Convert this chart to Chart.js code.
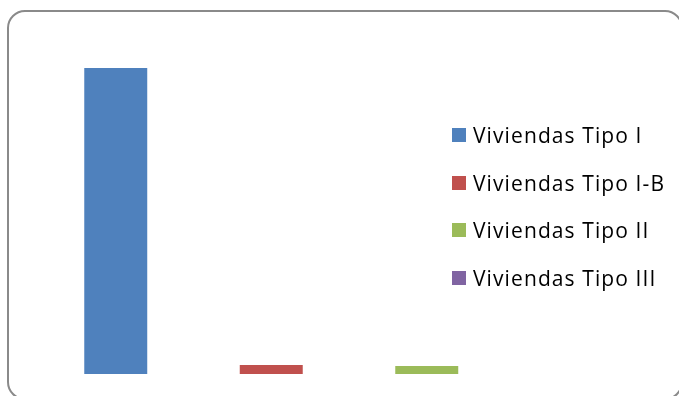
<!DOCTYPE html>
<html>
<head>
<meta charset="utf-8">
<script src="https://cdn.jsdelivr.net/npm/chart.js@4/dist/chart.umd.min.js"></script>
<style>
	html, body { margin: 0; padding: 0; background: #fff; overflow: hidden; }
	#wrap { position: relative; width: 679px; height: 396px; }
	#frame {
		position: absolute; left: 7px; top: 10px; width: 676px; height: 390px;
		border: 2px solid #8a8a8a; border-radius: 18px; box-sizing: border-box;
	}
	#graphicViviendas { position: absolute; left: 0; top: 0; }
	#legendViviendas {
		position: absolute; left: 452px; top: 111px;
		font-family: "Open Sans", sans-serif; font-size: 21px; letter-spacing: 1.1px; color: #000;
	}
	#legendViviendas ul { list-style: none; margin: 0; padding: 0; }
	#legendViviendas li { display: flex; align-items: center; height: 47.7px; white-space: nowrap; }
	#legendViviendas li span { display: inline-block; width: 14px; height: 14px; margin-right: 7px; }
</style>
</head>
<body>
<div id="wrap">
	<div id="frame"></div>
	<canvas id="graphicViviendas" width="679" height="396"></canvas>
	<div id="legendViviendas"></div>
</div>
<script>
const categories = ['Viviendas Tipo I', 'Viviendas Tipo I-B', 'Viviendas Tipo II', 'Viviendas Tipo III'];
const values = [340, 10, 9, 0];
const colors = ['#4F81BD', '#C0504D', '#9BBB59', '#8064A2'];

const Viviendas = {};

Viviendas.HtmlLegend = {
	id: 'htmlLegend',
	afterUpdate: function(chart) {
		const box = document.getElementById('legendViviendas');
		box.innerHTML = '';
		const ul = document.createElement('ul');
		const items = chart.options.plugins.legend.labels.generateLabels(chart);
		items.forEach(function(item) {
			const li = document.createElement('li');
			const swatch = document.createElement('span');
			swatch.style.background = item.fillStyle;
			li.appendChild(swatch);
			li.appendChild(document.createTextNode(item.text));
			ul.appendChild(li);
		});
		box.appendChild(ul);
	}
};

Viviendas.Graphic = (function() {

	function Graphic() {
		this.ctx = document.getElementById('graphicViviendas').getContext('2d');
	}

	Graphic.prototype.start = function() {
		new Chart(this.ctx, {
			type: 'bar',
			data: {
				labels: categories,
				datasets: [{
					label: 'Viviendas',
					backgroundColor: colors,
					borderWidth: 0,
					barPercentage: 0.405,
					categoryPercentage: 1,
					data: values
				}]
			},
			options: {
				responsive: false,
				animation: false,
				layout: { padding: { left: 38, right: 19, top: 14, bottom: 22 } },
				plugins: {
					legend: {
						display: false,
						labels: {
							generateLabels: function(chart) {
								const ds = chart.data.datasets[0];
								return chart.data.labels.map(function(label, i) {
									return { text: label, fillStyle: ds.backgroundColor[i], index: i };
								});
							}
						}
					},
					tooltip: { enabled: false }
				},
				scales: {
					x: { display: false },
					y: { display: false, min: 0, max: 400 }
				}
			},
			plugins: [Viviendas.HtmlLegend]
		});
	};

	return Graphic;

}());

const graphic = new Viviendas.Graphic();
graphic.start();
</script>
</body>
</html>
